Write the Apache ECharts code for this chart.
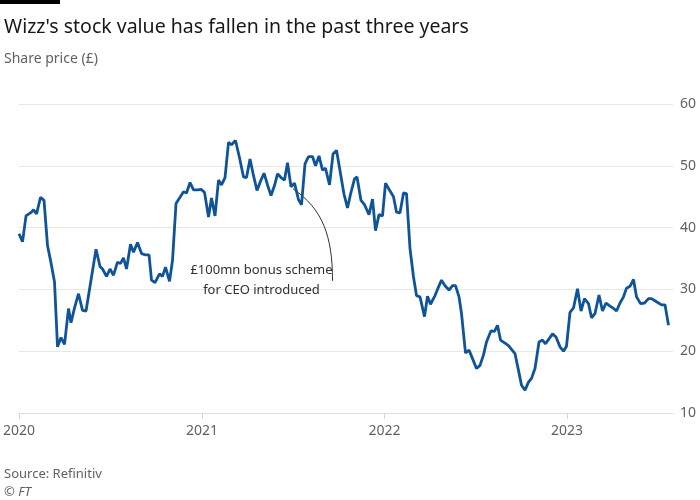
<!DOCTYPE html>
<html>
<head>
<meta charset="utf-8">
<script src="https://cdn.jsdelivr.net/npm/echarts@6/dist/echarts.min.js"></script>
<style>
  html, body { margin: 0; padding: 0; background: #fff; }
  #chart { width: 700px; height: 500px; }
</style>
</head>
<body>
<div id="chart"></div>
<script>
// weekly-ish share price readings (GBP)
const dates = [
  "2020-01-01","2020-01-08","2020-01-15","2020-01-26","2020-01-30","2020-02-05","2020-02-13","2020-02-20","2020-02-27","2020-03-04",
  "2020-03-12","2020-03-18","2020-03-25","2020-04-01","2020-04-09","2020-04-14","2020-04-21","2020-04-29","2020-05-07","2020-05-14",
  "2020-05-25","2020-06-03","2020-06-11","2020-06-16","2020-06-24","2020-07-01","2020-07-08","2020-07-16","2020-07-22","2020-07-28",
  "2020-08-03","2020-08-11","2020-08-17","2020-08-25","2020-09-02","2020-09-09","2020-09-17","2020-09-22","2020-09-29","2020-10-08",
  "2020-10-14","2020-10-20","2020-10-28","2020-11-03","2020-11-10","2020-11-18","2020-11-25","2020-12-01","2020-12-08","2020-12-15",
  "2020-12-23","2020-12-30","2021-01-06","2021-01-14","2021-01-20","2021-01-27","2021-02-03","2021-02-09","2021-02-16","2021-02-23",
  "2021-03-01","2021-03-09","2021-03-17","2021-03-25","2021-03-31","2021-04-07","2021-04-14","2021-04-21","2021-04-28","2021-05-05",
  "2021-05-12","2021-05-19","2021-05-26","2021-06-01","2021-06-08","2021-06-15","2021-06-21","2021-06-28","2021-07-05","2021-07-13",
  "2021-07-19","2021-07-26","2021-08-02","2021-08-10","2021-08-16","2021-08-23","2021-08-30","2021-09-05","2021-09-13","2021-09-20",
  "2021-09-27","2021-10-04","2021-10-12","2021-10-19","2021-10-25","2021-11-02","2021-11-07","2021-11-15","2021-11-22","2021-12-01",
  "2021-12-08","2021-12-14","2021-12-21","2021-12-28","2022-01-03","2022-01-10","2022-01-19","2022-01-25","2022-02-01","2022-02-08",
  "2022-02-14","2022-02-21","2022-02-28","2022-03-06","2022-03-13","2022-03-22","2022-03-28","2022-04-03","2022-04-12","2022-04-18",
  "2022-04-25","2022-05-02","2022-05-10","2022-05-17","2022-05-23","2022-05-30","2022-06-04","2022-06-12","2022-06-19","2022-06-26",
  "2022-07-04","2022-07-11","2022-07-18","2022-07-24","2022-08-02","2022-08-09","2022-08-15","2022-08-21","2022-08-30","2022-09-06",
  "2022-09-12","2022-09-19","2022-09-26","2022-10-02","2022-10-09","2022-10-16","2022-10-22","2022-10-29","2022-11-06","2022-11-13",
  "2022-11-19","2022-11-26","2022-12-03","2022-12-10","2022-12-18","2022-12-25","2022-12-31","2023-01-07","2023-01-14","2023-01-22",
  "2023-01-29","2023-02-05","2023-02-13","2023-02-19","2023-02-26","2023-03-06","2023-03-13","2023-03-20","2023-03-28","2023-04-03",
  "2023-04-10","2023-04-17","2023-04-24","2023-04-30","2023-05-07","2023-05-14","2023-05-20","2023-05-28","2023-06-05","2023-06-13",
  "2023-06-19","2023-06-29","2023-07-09","2023-07-16","2023-07-23"
];
const prices = [
  39.0,37.7,41.9,42.5,42.9,42.2,44.9,44.4,37.1,34.7,
  31.2,20.7,22.2,21.1,26.9,24.6,27.0,29.3,26.6,26.5,
  32.0,36.5,33.7,33.3,32.1,33.3,32.3,34.4,34.2,35.1,
  33.3,37.3,36.0,37.6,35.8,35.6,35.6,31.5,31.1,32.5,
  32.1,33.6,31.3,34.7,43.9,44.9,45.8,45.6,47.3,46.1,
  46.1,46.2,45.7,41.7,44.8,41.9,47.7,46.9,48.1,53.8,
  53.4,54.1,51.3,48.2,48.1,51.1,48.4,46.0,47.5,48.8,
  46.9,45.2,46.8,48.7,48.1,47.7,50.5,46.6,47.2,44.5,
  43.7,50.3,51.5,51.5,50.0,51.6,49.3,49.6,46.9,51.9,
  52.5,49.2,45.4,43.2,45.4,47.9,48.2,44.4,43.7,42.1,
  44.6,39.5,42.1,41.9,47.2,46.2,45.0,42.5,42.4,45.6,
  45.5,36.6,32.0,29.0,28.8,25.6,28.9,27.6,29.0,30.2,
  31.5,30.6,29.9,30.6,30.6,28.8,26.1,19.7,20.2,18.8,
  17.2,17.7,19.4,21.5,23.3,23.2,24.2,21.8,21.3,20.9,
  20.3,19.6,16.9,14.5,13.7,15.0,15.6,17.2,21.5,21.8,
  21.2,22.0,22.8,22.3,20.7,20.0,20.8,26.3,27.0,30.1,
  26.5,28.5,27.7,25.4,26.1,29.1,26.5,27.8,27.3,27.0,
  26.5,27.8,28.8,30.2,30.5,31.6,28.8,27.7,27.8,28.5,
  28.5,28.0,27.5,27.5,24.2
];
const yTicks = [10, 20, 30, 40, 50, 60];
const noteDate = "2021-06-28";
const noteLines = ["£100mn bonus scheme", "for CEO introduced"];

const FONT = "Noto Sans";
const chart = echarts.init(document.getElementById("chart"));

const option = {
  backgroundColor: "#fff",
  animation: false,
  textStyle: { fontFamily: FONT },
  title: [
    {
      text: "Wizz's stock value has fallen in the past three years",
      left: -1, top: 12,
      textStyle: { fontSize: 19.5, fontWeight: "normal", color: "#1a1817", fontFamily: FONT }
    },
    {
      text: "Share price (£)",
      left: -1, top: 47,
      textStyle: { fontSize: 14, fontWeight: "normal", color: "#66605c", fontFamily: FONT }
    },
    {
      text: "Source: Refinitiv",
      left: -1, top: 463,
      textStyle: { fontSize: 13, fontWeight: "normal", color: "#66605c", fontFamily: FONT }
    },
    {
      text: "© FT",
      left: -1, top: 481,
      textStyle: { fontSize: 13, fontWeight: "normal", fontStyle: "italic", color: "#66605c", fontFamily: FONT }
    }
  ],
  grid: { left: 19, right: 27, top: 104, bottom: 87, containLabel: false },
  xAxis: {
    type: "time",
    min: "2020-01-01",
    max: "2023-08-01",
    minInterval: 365 * 86400000,
    maxInterval: 366 * 86400000,
    axisLine: { show: true, lineStyle: { color: "#e3ddd7", width: 1 } },
    axisTick: { show: true, length: 6, lineStyle: { color: "#d9d3cd" } },
    axisLabel: {
      formatter: "{yyyy}",
      color: "#66605c", fontSize: 14, margin: 11,
      showMaxLabel: false, showMinLabel: true
    },
    splitLine: { show: false }
  },
  yAxis: {
    type: "value",
    position: "right",
    min: yTicks[0], max: yTicks[yTicks.length - 1], interval: 10,
    axisLine: { show: false },
    axisTick: { show: false },
    axisLabel: { color: "#66605c", fontSize: 14, margin: 7 },
    splitLine: { lineStyle: { color: "#ebe6e0", width: 1 } }
  },
  series: [{
    type: "line",
    data: dates.map((d, i) => [d, prices[i]]),
    showSymbol: false,
    lineStyle: { color: "#0f5499", width: 2.8 },
    itemStyle: { color: "#0f5499" }
  }]
};
chart.setOption(option);

// annotation: curved leader from the point down to the text
const idx = dates.indexOf(noteDate);
const p = chart.convertToPixel({ gridIndex: 0 }, [noteDate, prices[idx]]);
const end = chart.convertToPixel({ gridIndex: 0 }, ["2021-09-19", 31.4]);
chart.setOption({
  graphic: [
    { type: "rect", left: 0, top: 0, shape: { width: 60, height: 4 }, style: { fill: "#000" } },
    {
      type: "bezierCurve",
      shape: {
        x1: p[0] + 2, y1: p[1] + 2,
        cpx1: end[0] - 10, cpy1: p[1] + 22,
        cpx2: end[0], cpy2: end[1] - 45,
        x2: end[0], y2: end[1]
      },
      style: { stroke: "#33302e", lineWidth: 1, fill: null }
    },
    {
      type: "text",
      x: end[0] - 71, y: end[1] - 20,
      style: {
        text: noteLines.join("\n"),
        fontSize: 13, fontFamily: FONT, fill: "#33302e",
        align: "center", lineHeight: 20
      }
    }
  ]
});
</script>
</body>
</html>
